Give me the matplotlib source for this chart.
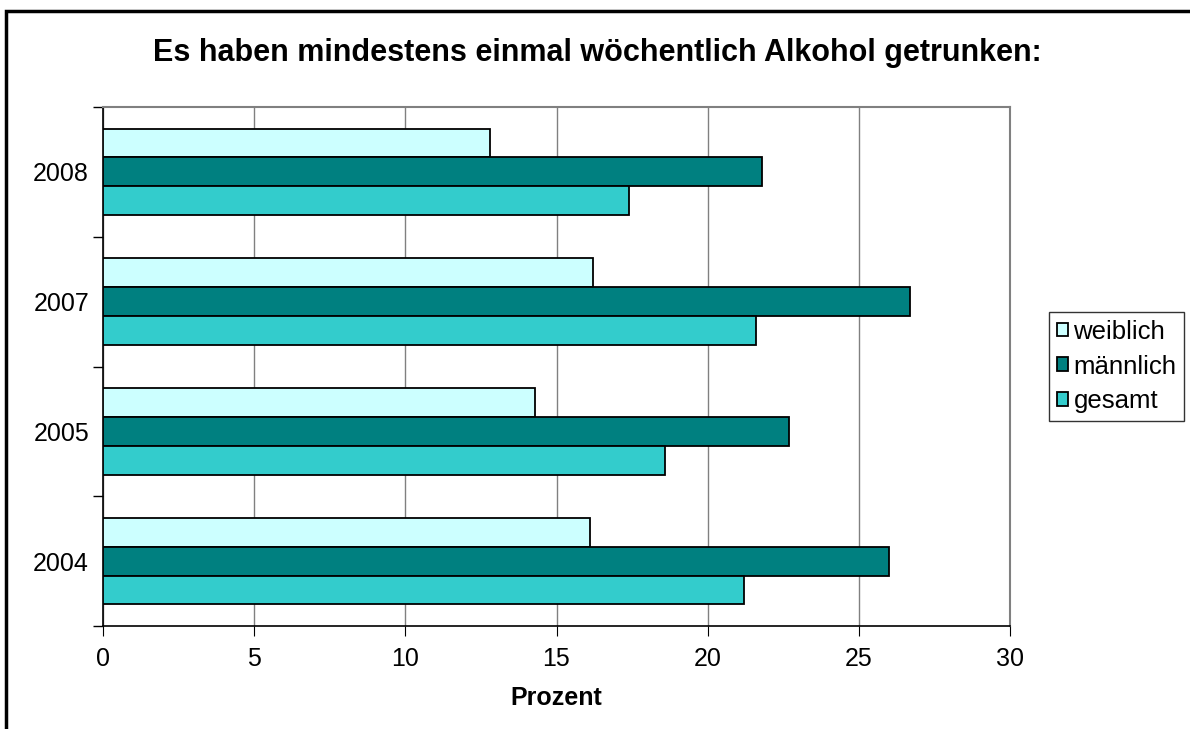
import matplotlib.pyplot as plt
import numpy as np
from matplotlib.patches import Rectangle

plt.rcParams['font.family'] = ['Liberation Sans', 'DejaVu Sans']

# Data
years = ["2004", "2005", "2007", "2008"]
weiblich = [16.1, 14.3, 16.2, 12.8]
maennlich = [26.0, 22.7, 26.7, 21.8]
gesamt = [21.2, 18.6, 21.6, 17.4]
series_names = ["weiblich", "männlich", "gesamt"]
colors = ["#CCFFFF", "#008080", "#33CCCC"]

fig = plt.figure(figsize=(11.9, 7.29), dpi=100)
ax = fig.add_axes([103 / 1190, 1 - 626 / 729, (1010 - 103) / 1190, (626 - 107) / 729])

y = np.arange(len(years))
h = 0.222
for i, (name, vals, col) in enumerate(zip(series_names, [weiblich, maennlich, gesamt], colors)):
    ax.barh(y + (1 - i) * h, vals, height=h, color=col, edgecolor="black",
            linewidth=1.3, label=name, zorder=3)

ax.set_xlim(0, 30)
ax.set_ylim(-0.5, len(years) - 0.5)
ax.set_xticks(range(0, 31, 5))
ax.set_yticks(y)
ax.set_yticklabels(years)
ax.set_yticks(np.arange(-0.5, len(years), 1), minor=True)
ax.tick_params(axis="y", which="major", length=0, labelsize=18, pad=10)
ax.tick_params(axis="y", which="minor", length=7, direction="out", width=1)
ax.tick_params(axis="x", length=7, direction="out", labelsize=18, pad=8)
ax.xaxis.grid(True, color="#808080", linewidth=1, zorder=0)
ax.set_axisbelow(True)

for s in ["top", "right"]:
    ax.spines[s].set_color("#808080")
    ax.spines[s].set_linewidth(1.5)
for s in ["left", "bottom"]:
    ax.spines[s].set_color("black")
    ax.spines[s].set_linewidth(1.2)

ax.set_xlabel("Prozent", fontsize=18, fontweight="bold", labelpad=11)
fig.text(0.502, 1 - 53 / 729, "Es haben mindestens einmal wöchentlich Alkohol getrunken:",
         ha="center", va="center", fontsize=22, fontweight="bold")

leg = fig.legend(loc="upper left", bbox_to_anchor=(1049 / 1190, 1 - 312 / 729),
                 fontsize=18.5, frameon=True, fancybox=False, edgecolor="black",
                 handlelength=0.45, handleheight=0.45, handletextpad=0.2,
                 borderpad=0.3, labelspacing=0.42, borderaxespad=0)
leg.get_frame().set_linewidth(1)

# outer chart border
fig.patches.append(Rectangle((6 / 1190, -0.02), 1.1, 1 - 11 / 729 + 0.02,
                             transform=fig.transFigure, fill=False,
                             edgecolor="black", linewidth=2.5))

fig.savefig("out.png", dpi=100)
